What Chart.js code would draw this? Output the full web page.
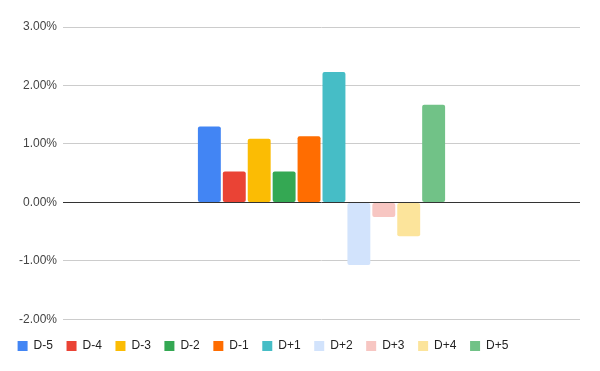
<!DOCTYPE html>
<html>
<head>
<meta charset="utf-8">
<script src="https://cdn.jsdelivr.net/npm/chart.js@4"></script>
<style>
  html, body { margin: 0; padding: 0; background: #fff; }
  #wrap { width: 600px; height: 371px; }
</style>
</head>
<body>
<div id="wrap"><canvas id="myChart" width="600" height="371"></canvas></div>
<script>
// one category, ten series (percent values)
const categories = ['']
const seriesNames = ['D-5', 'D-4', 'D-3', 'D-2', 'D-1', 'D+1', 'D+2', 'D+3', 'D+4', 'D+5']
const seriesValues = [1.30, 0.53, 1.09, 0.53, 1.13, 2.23, -1.07, -0.25, -0.58, 1.67]
const seriesColors = ['#4285F4', '#EA4335', '#FBBC04', '#34A853', '#FF6D01',
                      '#46BDC6', '#D2E3FC', '#F7C6C2', '#FCE49B', '#71C287']
const yTicks = [-2, -1, 0, 1, 2, 3]

Chart.defaults.font.family = '"Liberation Sans", Arial, sans-serif'
Chart.defaults.font.size = 12
Chart.defaults.color = '#444'

// a bit more room between plot and legend
const legendGap = {
  id: 'legendGap',
  beforeInit(chart) {
    const fit = chart.legend.fit
    chart.legend.fit = function () {
      fit.call(this)
      this.height += 6
    }
  },
  afterLayout(chart) {
    chart.legend.top += 7
  }
}

var ctx = document.getElementById('myChart').getContext('2d');

new Chart(ctx, {
  type: 'bar',
  data: {
    labels: categories,
    datasets: seriesNames.map((name, i) => ({
      label: name,
      data: [seriesValues[i]],
      backgroundColor: seriesColors[i],
      borderRadius: 2,
      borderSkipped: false,
      categoryPercentage: 0.482,
      barPercentage: 0.92
    }))
  },
  plugins: [legendGap],
  options: {
    responsive: false,
    animation: false,
    layout: { padding: { left: 4, right: 20, top: 27, bottom: 10 } },
    plugins: {
      legend: {
        position: 'bottom',
        align: 'start',
        labels: {
          boxWidth: 10,
          boxHeight: 10,
          padding: 13.6,
          color: '#222',
          font: { size: 12 }
        }
      },
      tooltip: { enabled: false }
    },
    scales: {
      x: {
        display: false
      },
      y: {
        min: yTicks[0],
        max: yTicks[yTicks.length - 1],
        afterBuildTicks: axis => { axis.ticks = yTicks.map(v => ({ value: v })) },
        afterFit: axis => { axis.width = 59 },
        border: { display: false },
        grid: {
          drawTicks: false,
          color: c => c.tick && c.tick.value === 0 ? '#333' : '#ccc',
          lineWidth: 1
        },
        ticks: {
          padding: 6,
          color: '#444',
          callback: v => v.toFixed(2) + '%'
        }
      }
    }
  }
});
</script>
</body>
</html>
